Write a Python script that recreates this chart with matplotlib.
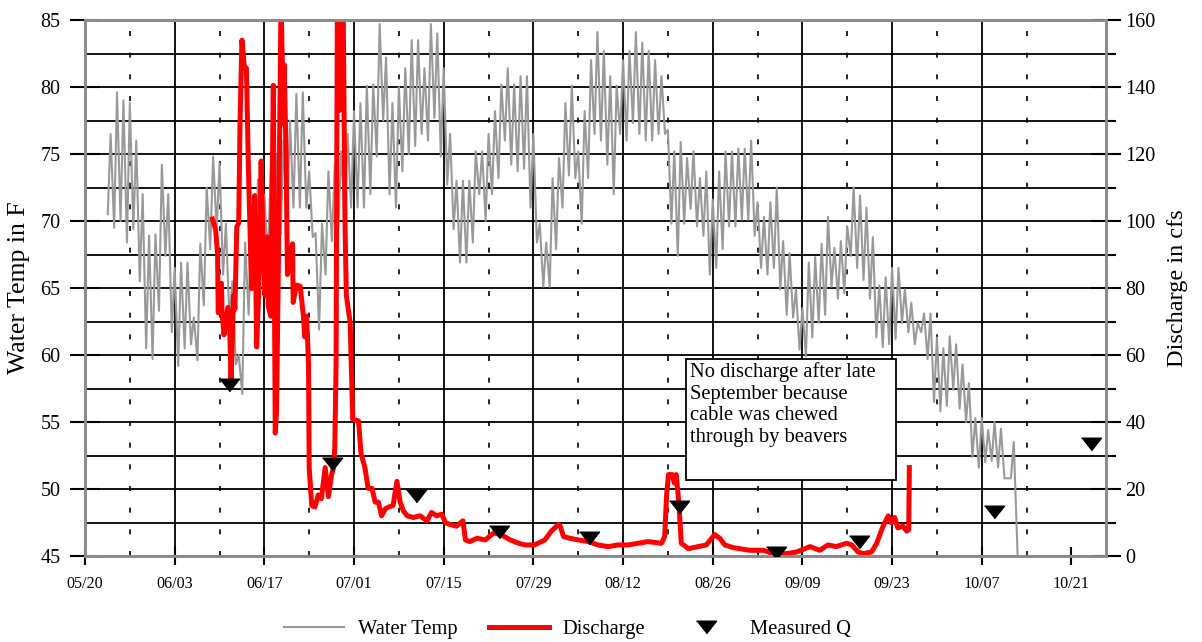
import numpy as np
import matplotlib
matplotlib.use('Agg')
import matplotlib.pyplot as plt
from matplotlib.ticker import MultipleLocator
from matplotlib.lines import Line2D
from matplotlib.patches import Rectangle

plt.rcParams['font.family'] = ['Liberation Serif', 'DejaVu Serif']

# x axis is in days counted from 05/20
tick_labels = ['05/20', '06/03', '06/17', '07/01', '07/15', '07/29',
               '08/12', '08/26', '09/09', '09/23', '10/07', '10/21']
tick_days = [0, 14, 28, 42, 56, 70, 84, 98, 112, 126, 140, 154]
solid_days = [14, 28, 42, 56, 70, 84, 98, 112, 126, 140]
dotted_days = [7, 21, 35, 49, 63, 77, 91, 105, 119, 133, 147]

# water temperature: daily low / high (F), days 4 .. 145
temp_day = np.arange(4, 146)
temp_low = [70.5, 69.5, 70.0, 68.4, 69.4, 65.5, 60.5, 59.7, 63.3, 67.4,
            61.7, 59.2, 60.5, 60.8, 59.6, 63.7, 67.9, 69.4, 66.0, 62.6,
            59.3, 57.1, 63.0, 65.0, 66.0, 67.0, 68.0, 69.0, 70.0, 71.0,
            71.0, 71.0, 68.8, 61.9, 66.0, 68.5, 69.5, 70.3, 71.0, 71.0,
            71.0, 72.0, 74.8, 77.5, 72.0, 71.0, 73.7, 75.0, 75.6, 76.5,
            76.0, 77.7, 74.8, 72.7, 69.4, 66.9, 66.9, 68.4, 72.0, 70.0,
            72.0, 73.2, 76.0, 74.2, 73.7, 73.9, 71.0, 68.4, 65.1, 65.1,
            67.9, 71.0, 73.4, 73.2, 69.8, 73.2, 76.5, 76.0, 74.2, 72.0,
            76.5, 76.0, 77.3, 76.5, 76.0, 76.0, 76.5, 76.5, 69.8, 67.4,
            69.8, 70.9, 69.6, 68.9, 66.0, 66.5, 67.9, 69.6, 69.6, 70.1,
            70.1, 68.9, 66.5, 66.0, 66.5, 64.9, 63.0, 62.8, 60.4, 59.9,
            61.3, 62.4, 63.0, 65.1, 64.2, 64.6, 67.4, 66.5, 65.6, 64.2,
            61.3, 60.6, 60.8, 61.2, 62.4, 61.7, 60.8, 61.7, 59.7, 56.5,
            55.8, 56.2, 57.4, 56.0, 55.0, 52.4, 51.6, 52.0, 52.1, 51.6,
            50.8, 50.8]
temp_high = [76.5, 79.6, 79.0, 78.8, 76.0, 72.0, 68.9, 69.0, 74.2, 72.0,
             66.5, 66.9, 66.9, 62.8, 68.3, 72.5, 74.8, 74.3, 69.8, 65.5,
             60.0, 68.4, 70.0, 73.1, 72.0, 74.0, 75.0, 76.0, 77.5, 79.5,
             79.6, 73.7, 69.1, 69.8, 73.7, 74.2, 75.2, 76.5, 78.2, 78.8,
             80.1, 80.2, 84.7, 82.2, 78.8, 80.0, 81.4, 83.5, 83.5, 81.4,
             84.7, 84.0, 81.4, 76.5, 73.0, 73.0, 73.0, 75.2, 75.2, 76.5,
             78.2, 80.2, 81.4, 80.2, 80.8, 80.8, 76.5, 69.8, 68.4, 73.2,
             74.7, 78.8, 80.1, 75.2, 78.2, 82.0, 84.1, 82.7, 80.8, 80.1,
             82.0, 82.7, 84.1, 83.3, 82.7, 82.0, 80.8, 76.8, 75.2, 75.9,
             74.7, 75.2, 73.2, 73.7, 71.6, 73.7, 75.2, 75.2, 75.4, 75.4,
             76.0, 71.4, 70.3, 71.4, 72.5, 68.5, 67.6, 64.9, 63.5, 66.9,
             67.3, 68.3, 70.3, 68.0, 68.5, 69.6, 72.5, 71.9, 71.0, 68.8,
             65.2, 65.8, 66.5, 66.5, 64.9, 63.9, 62.4, 63.1, 63.1, 61.3,
             60.5, 61.4, 60.8, 59.3, 57.9, 55.3, 55.3, 54.4, 55.0, 54.5,
             50.8, 53.5]
temp_end_day = 145.6
temp_end_value = 45.0

# discharge record (cfs)
q_day = [19.9, 20.4, 20.7, 20.8, 21.3, 21.4, 21.7, 22.3, 22.6, 22.8,
         23.2, 23.4, 23.7, 24.0, 24.2, 24.5, 24.9, 25.2, 25.5, 25.9,
         26.0, 26.5, 26.8, 27.1, 27.5, 27.8, 28.1, 28.4, 28.6, 29.0,
         29.4, 29.7, 29.9, 30.2, 30.6, 31.0, 31.1, 31.4, 31.6, 32.0,
         32.4, 32.5, 33.0, 33.6, 34.1, 34.3, 34.6, 34.9, 35.0, 35.4,
         35.9, 36.4, 36.9, 37.5, 38.0, 38.5, 38.8, 39.0, 39.2, 39.4,
         39.75, 40.0, 40.3, 40.6, 40.8, 41.4, 41.8, 42.7, 43.1, 43.7,
         44.2, 44.8, 45.3, 45.8, 46.3, 46.9, 47.4, 48.1, 48.7, 49.2,
         49.7, 50.3, 51.3, 52.3, 53.4, 54.1, 54.9, 55.7, 56.3, 57.0,
         58.0, 59.0, 59.4, 60.1, 61.2, 62.5, 63.8, 64.9, 66.4, 67.7,
         68.7, 70.2, 71.8, 72.8, 73.9, 74.2, 74.7, 75.7, 77.0, 78.6,
         80.1, 81.7, 83.2, 84.8, 86.4, 87.9, 90.0, 90.5, 90.8, 91.1,
         91.7, 92.0, 92.3, 92.7, 93.1, 94.2, 95.7, 97.0, 98.3, 99.1,
         99.9, 101.2, 102.2, 103.8, 105.9, 107.4, 109.5, 111.1, 113.2, 114.7,
         116.0, 117.3, 118.9, 119.7, 120.7, 121.5, 122.8, 123.6, 124.6, 125.4,
         125.9, 126.4, 126.9, 127.7, 128.3, 128.6, 128.7]
q_cfs = [100.6, 97.3, 90.1, 72.6, 81.4, 72.6, 66.0, 74.2, 67.5, 52.6,
         77.8, 73.7, 98.3, 99.4, 129.0, 154.0, 145.6, 145.6, 116.8, 88.0,
         79.8, 107.6, 62.4, 77.8, 117.9, 94.2, 77.8, 95.3, 74.7, 71.6,
         140.5, 36.7, 42.8, 88.0, 166.0, 129.0, 146.6, 118.9, 84.0, 88.0,
         93.2, 75.7, 80.9, 80.5, 71.6, 65.4, 71.6, 57.2, 26.4, 15.1,
         14.6, 18.2, 17.1, 26.4, 17.7, 24.3, 26.4, 32.6, 57.2, 166.0,
         133.0, 166.0, 166.0, 98.3, 77.8, 69.6, 40.8, 40.3, 30.5, 26.4,
         20.2, 20.2, 16.1, 16.1, 12.0, 14.1, 14.6, 15.1, 22.3, 16.1,
         13.5, 12.0, 11.5, 12.0, 10.5, 13.0, 12.0, 12.5, 9.9, 9.4,
         8.9, 10.5, 4.8, 4.3, 5.3, 4.8, 6.9, 6.4, 4.8, 3.8,
         3.3, 3.3, 4.8, 7.4, 9.4, 8.9, 5.8, 5.3, 4.8, 4.3,
         3.3, 2.8, 3.3, 3.3, 3.8, 4.3, 3.8, 5.8, 18.2, 24.3,
         24.3, 21.8, 24.3, 16.1, 3.8, 2.2, 2.8, 3.3, 6.4, 5.3,
         3.3, 2.5, 2.2, 1.7, 1.7, 0.7, 0.7, 1.2, 2.8, 1.7,
         3.3, 2.8, 3.8, 3.3, 1.2, 0.7, 1.2, 3.8, 8.9, 12.0,
         9.9, 11.5, 8.4, 8.9, 7.4, 7.9, 26.4]

# field measurements of discharge (cfs)
meas_day = [22.5, 38.6, 51.6, 64.7, 78.7, 92.8, 107.9, 120.9, 141.9, 157.0]
meas_cfs = [50.9, 27.4, 18.0, 7.3, 5.3, 14.5, 1.0, 4.3, 13.1, 33.4]

note = 'No discharge after late\nSeptember because\ncable was chewed\nthrough by beavers'

gray = '#999999'
spine_gray = '#8c8c8c'
tri = [(-1, 0.63), (1, 0.63), (0, -0.63)]

# interleave daily low (morning) and high (afternoon)
tx = np.column_stack([temp_day - 0.45, temp_day]).ravel()
ty = np.column_stack([temp_low, temp_high]).ravel()
tx = np.append(tx, temp_end_day)
ty = np.append(ty, temp_end_value)

fig = plt.figure(figsize=(12.02, 6.42), dpi=100)
ax = fig.add_axes([85 / 1202, 86 / 642, 1021 / 1202, 536 / 642])
ax2 = ax.twinx()

ax.set_xlim(0, 159.4)
ax.set_ylim(45, 85)
ax2.set_ylim(0, 160)
ax.set_axisbelow(True)

# grid
ax.yaxis.set_major_locator(MultipleLocator(5))
ax.yaxis.set_minor_locator(MultipleLocator(2.5))
ax.grid(axis='y', which='both', color='black', lw=1.3)
for d in solid_days:
    ax.axvline(d, color='black', lw=1.3, zorder=0.6)
for d in dotted_days:
    ax.axvline(d, color='black', lw=1.2, ls=(0, (3, 10)), zorder=0.6)

# note box
ax.add_patch(Rectangle((0.5886, 0.1418), 0.2057, 0.2257, transform=ax.transAxes,
                       facecolor='white', edgecolor='black', lw=1.3, zorder=1.5))
ax.text(0.5926, 0.362, note, transform=ax.transAxes, ha='left', va='top',
        fontsize=14.8, linespacing=1.2, zorder=1.6)

ax.plot(tx, ty, color=gray, lw=1.5, zorder=2)
ax2.plot(q_day, q_cfs, color='red', lw=3.6, solid_joinstyle='round', zorder=2)
ax2.plot(meas_day, meas_cfs, ls='none', marker=tri, markersize=14.4,
         color='black', zorder=3)

# ticks
ax.set_xticks(tick_days)
ax.set_xticklabels(tick_labels)
ax.tick_params(axis='x', which='major', direction='inout', length=13, width=1.5,
               labelsize=11.6, pad=8)
ax.tick_params(axis='y', which='major', direction='inout', length=21.6, width=1.5,
               labelsize=14.5, pad=7)
ax.tick_params(axis='y', which='minor', length=0)
ax2.yaxis.set_major_locator(MultipleLocator(20))
ax2.yaxis.set_minor_locator(MultipleLocator(10))
ax2.tick_params(axis='y', which='major', direction='inout', length=21.6, width=1.5,
                labelsize=14.5, pad=3)
ax2.tick_params(axis='y', which='minor', direction='out', length=7, width=1.5)

for a in (ax, ax2):
    for s in a.spines.values():
        s.set_color(spine_gray)
        s.set_linewidth(2)

ax.set_ylabel('Water Temp in F', fontsize=18.5, labelpad=7)
ax2.set_ylabel('Discharge in cfs', fontsize=17.5, labelpad=8)

handles = [Line2D([], [], color=gray, lw=1.5),
           Line2D([], [], color='red', lw=3.6),
           Line2D([], [], ls='none', marker=tri, markersize=14.4, color='black')]
fig.legend(handles, ['Water Temp', 'Discharge', 'Measured Q'], loc='center',
           bbox_to_anchor=(0.4725, 0.019), ncol=3, frameon=False, fontsize=14.8,
           handlelength=2.9, handletextpad=0.7, columnspacing=1.5)

fig.savefig('out.png', dpi=100)
